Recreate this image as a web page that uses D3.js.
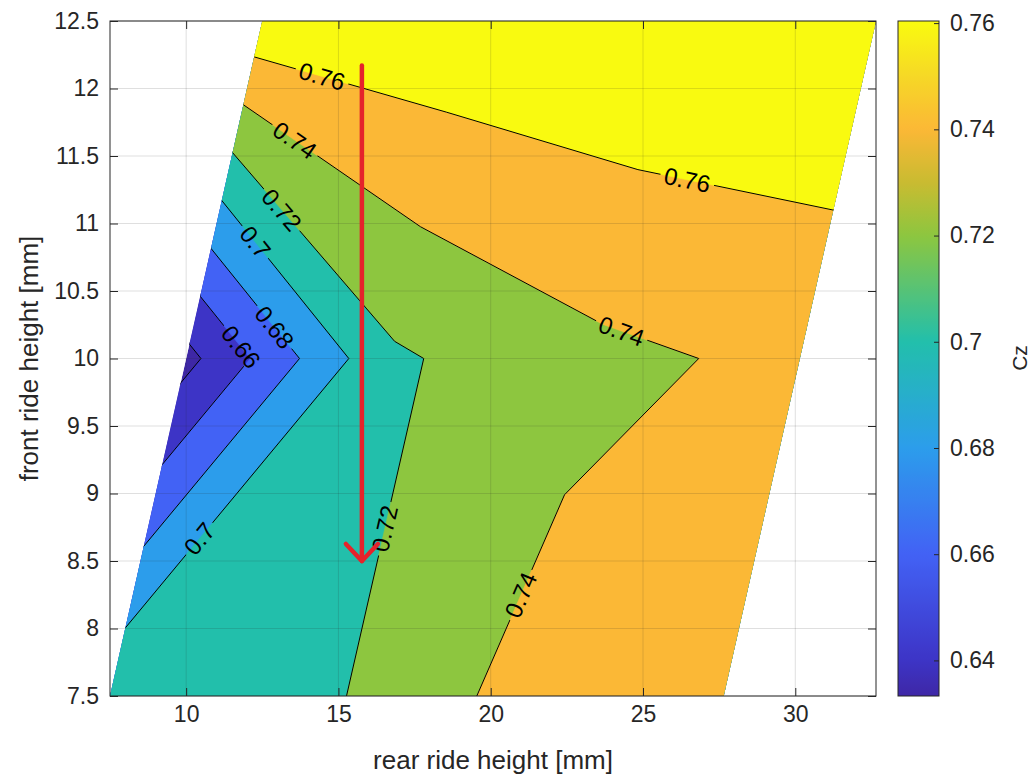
<!DOCTYPE html>
<html>
<head>
<meta charset="utf-8">
<script src="https://cdn.jsdelivr.net/npm/d3@7"></script>
<style>
  body { margin: 0; background: #fff; }
  svg { display: block; }
  text { font-family: "Liberation Sans", Arial, Helvetica, sans-serif; }
</style>
</head>
<body>
<svg id="chart" width="1032" height="779"></svg>
<script>
// ---------------- data ----------------
const frontRH = [7.5, 10, 12.5];                       // rows (front ride height, mm)
const rearRH = [                                       // rear ride height at each grid node (mm)
  [7.5, 14.217, 20.933, 27.65],
  [10.0, 16.717, 23.433, 30.15],
  [12.5, 19.217, 25.933, 32.65]
];
const cz = [                                           // Cz at each grid node
  [0.7167, 0.7151, 0.7465, 0.7520],
  [0.6340, 0.7170, 0.7356, 0.7443],
  [0.7750, 0.7759, 0.7792, 0.7800]
];
const levels = [0.64, 0.66, 0.68, 0.70, 0.72, 0.74, 0.76];
const xTicks = [10, 15, 20, 25, 30];
const yTicks = [7.5, 8, 8.5, 9, 9.5, 10, 10.5, 11, 11.5, 12, 12.5];
const cTicks = [0.64, 0.66, 0.68, 0.70, 0.72, 0.74, 0.76];
const xDomain = [7.5, 32.65];
const yDomain = [7.5, 12.5];
const colorLimits = [0.6333, 0.7604];
// colormap (parula-like) anchor values and colours
const cmapValues = [0.6333, 0.64, 0.66, 0.68, 0.70, 0.72, 0.73, 0.74, 0.75, 0.7604];
const cmapColors = ["#3e27a6", "#3d34c6", "#4262f5", "#2c9deb", "#22bfab", "#8dc63f", "#c9bb31", "#fbb836", "#f6d826", "#f9fb0f"];
// inline contour labels: level and approximate (rear, front) position
const labelLevels = [0.76, 0.76, 0.74, 0.72, 0.70, 0.68, 0.66, 0.70, 0.72, 0.74, 0.74];
const labelRear   = [14.45, 26.45, 13.55, 13.08, 12.26, 12.89, 11.66, 10.46, 16.70, 21.07, 24.32];
const labelFront  = [12.08, 11.32, 11.61, 11.09, 10.86, 10.23, 10.06, 8.66, 8.73, 8.24, 10.22];
// red annotation arrow (rear, front)
const arrowRear = [15.77, 15.77];
const arrowFront = [12.17, 8.5];

// ---------------- layout ----------------
const svg = d3.select("#chart");
const W = 1032, H = 779;
const plot = { left: 110, right: 876, top: 21, bottom: 696 };
const cbar = { left: 898, right: 939, top: 21, bottom: 696 };
const axisColor = "#262626";
const tickFont = 23;

const x = d3.scaleLinear().domain(xDomain).range([plot.left, plot.right]);
const y = d3.scaleLinear().domain(yDomain).range([plot.bottom, plot.top]);
const color = d3.scaleLinear().domain(cmapValues).range(cmapColors).interpolate(d3.interpolateRgb).clamp(true);
const cscale = d3.scaleLinear().domain(colorLimits).range([cbar.bottom, cbar.top]);

// ---------------- contour geometry ----------------
const ny = frontRH.length, nx = rearRH[0].length;
const flat = [];
for (let j = 0; j < ny; j++) for (let i = 0; i < nx; i++) flat.push(cz[j][i]);
const contourSet = d3.contours().size([nx, ny]).thresholds(levels)(flat);

function interp1(arr, t) {
  const n = arr.length;
  let k = Math.max(0, Math.min(n - 2, Math.floor(t)));
  const f = t - k;
  return arr[k] * (1 - f) + arr[k + 1] * f;
}
function gridToData(cx, cy) {
  const u = cx - 0.5, v = cy - 0.5;
  const front = interp1(frontRH, v);
  const j = Math.max(0, Math.min(ny - 2, Math.floor(v)));
  const fv = v - j;
  const rear = interp1(rearRH[j], u) * (1 - fv) + interp1(rearRH[j + 1], u) * fv;
  return [rear, front];
}
function toPx(p) { const d = gridToData(p[0], p[1]); return [x(d[0]), y(d[1])]; }
function pathOf(mp) {
  let s = "";
  mp.coordinates.forEach(poly => poly.forEach(ring => {
    s += "M" + ring.map(p => { const q = toPx(p); return q[0].toFixed(2) + "," + q[1].toFixed(2); }).join("L") + "Z";
  }));
  return s;
}

// domain boundary (data grid outline)
const boundary = [];
for (let i = 0; i < nx; i++) boundary.push([rearRH[0][i], frontRH[0]]);
for (let j = 1; j < ny; j++) boundary.push([rearRH[j][nx - 1], frontRH[j]]);
for (let i = nx - 2; i >= 0; i--) boundary.push([rearRH[ny - 1][i], frontRH[ny - 1]]);
for (let j = ny - 2; j > 0; j--) boundary.push([rearRH[j][0], frontRH[j]]);
const boundaryPx = boundary.map(d => [x(d[0]), y(d[1])]);
const boundaryPath = "M" + boundaryPx.map(p => p.join(",")).join("L") + "Z";

const defs = svg.append("defs");
defs.append("clipPath").attr("id", "dataClip").append("path").attr("d", boundaryPath);

// ---------------- filled contours ----------------
const fills = svg.append("g").attr("clip-path", "url(#dataClip)");
fills.append("path").attr("d", boundaryPath).attr("fill", color(colorLimits[0]));
contourSet.forEach(c => {
  fills.append("path").attr("d", pathOf(c)).attr("fill", color(c.value))
    .attr("fill-rule", "evenodd").attr("stroke", color(c.value)).attr("stroke-width", 0.6);
});

// ---------------- label placement ----------------
const labelFont = 24;
const labels = labelLevels.map((lv, k) => {
  const px = x(labelRear[k]), py = y(labelFront[k]);
  const c = contourSet.find(cc => Math.abs(cc.value - lv) < 1e-9);
  let best = null;
  c.coordinates.forEach(poly => poly.forEach(ring => {
    const pts = ring.map(toPx);
    for (let i = 0; i < pts.length - 1; i++) {
      const a = pts[i], b = pts[i + 1];
      const mid = [(a[0] + b[0]) / 2, (a[1] + b[1]) / 2];
      if (!d3.polygonContains(boundaryPx, mid)) continue;
      const dx = b[0] - a[0], dy = b[1] - a[1];
      const L2 = dx * dx + dy * dy; if (L2 < 1e-6) continue;
      let t = ((px - a[0]) * dx + (py - a[1]) * dy) / L2; t = Math.max(0, Math.min(1, t));
      const qx = a[0] + t * dx, qy = a[1] + t * dy;
      const dist = Math.hypot(px - qx, py - qy);
      if (!best || dist < best.dist) best = { dist, qx, qy, ang: Math.atan2(dy, dx) * 180 / Math.PI };
    }
  }));
  let ang = best.ang;
  if (ang > 90) ang -= 180;
  if (ang <= -90) ang += 180;
  return { text: String(+lv.toFixed(2)), x: best.qx, y: best.qy, ang };
});

// measure label widths
const measure = svg.append("text").attr("font-size", labelFont);
labels.forEach(l => { measure.text(l.text); l.w = measure.node().getComputedTextLength(); });
measure.remove();

const mask = defs.append("mask").attr("id", "labelMask").attr("maskUnits", "userSpaceOnUse")
  .attr("x", 0).attr("y", 0).attr("width", W).attr("height", H);
mask.append("rect").attr("width", W).attr("height", H).attr("fill", "#fff");
labels.forEach(l => {
  mask.append("rect")
    .attr("x", -l.w / 2 - 4).attr("y", -labelFont * 0.42).attr("width", l.w + 8).attr("height", labelFont * 0.84)
    .attr("transform", `translate(${l.x},${l.y}) rotate(${l.ang})`).attr("fill", "#000");
});

// ---------------- contour lines ----------------
const lines = svg.append("g").attr("clip-path", "url(#dataClip)").append("g").attr("mask", "url(#labelMask)");
contourSet.forEach(c => {
  lines.append("path").attr("d", pathOf(c)).attr("fill", "none").attr("stroke", "#000").attr("stroke-width", 1);
});

// ---------------- grid + axes ----------------
const grid = svg.append("g").attr("stroke", axisColor).attr("stroke-opacity", 0.15).attr("stroke-width", 1);
xTicks.forEach(v => grid.append("line").attr("x1", x(v)).attr("x2", x(v)).attr("y1", plot.top).attr("y2", plot.bottom));
yTicks.forEach(v => grid.append("line").attr("x1", plot.left).attr("x2", plot.right).attr("y1", y(v)).attr("y2", y(v)));

function styleAxis(g, showText) {
  g.select(".domain").remove();
  g.selectAll(".tick line").attr("stroke", axisColor);
  g.selectAll(".tick text").attr("fill", axisColor).attr("font-size", tickFont).attr("font-family", null);
  if (!showText) g.selectAll(".tick text").remove();
}
svg.append("g").attr("transform", `translate(0,${plot.bottom})`)
  .call(d3.axisBottom(x).tickValues(xTicks).tickFormat(d3.format("")).tickSizeInner(-8).tickSizeOuter(0).tickPadding(10))
  .call(g => styleAxis(g, true));
svg.append("g").attr("transform", `translate(0,${plot.top})`)
  .call(d3.axisTop(x).tickValues(xTicks).tickSizeInner(-8).tickSizeOuter(0))
  .call(g => styleAxis(g, false));
svg.append("g").attr("transform", `translate(${plot.left},0)`)
  .call(d3.axisLeft(y).tickValues(yTicks).tickFormat(d3.format("")).tickSizeInner(-8).tickSizeOuter(0).tickPadding(11))
  .call(g => styleAxis(g, true));
svg.append("g").attr("transform", `translate(${plot.right},0)`)
  .call(d3.axisRight(y).tickValues(yTicks).tickSizeInner(-8).tickSizeOuter(0))
  .call(g => styleAxis(g, false));
svg.append("rect").attr("x", plot.left).attr("y", plot.top)
  .attr("width", plot.right - plot.left).attr("height", plot.bottom - plot.top)
  .attr("fill", "none").attr("stroke", axisColor).attr("stroke-width", 1);

// ---------------- contour labels ----------------
svg.append("g").selectAll("text").data(labels).join("text")
  .attr("transform", d => `translate(${d.x},${d.y}) rotate(${d.ang})`)
  .attr("text-anchor", "middle").attr("dominant-baseline", "central")
  .attr("font-size", labelFont).attr("fill", "#000").text(d => d.text);

// ---------------- red arrow ----------------
const ax0 = x(arrowRear[0]), ay0 = y(arrowFront[0]), ax1 = x(arrowRear[1]), ay1 = y(arrowFront[1]);
const arrowG = svg.append("g").attr("stroke", "#e5232b").attr("stroke-width", 4.5).attr("fill", "none")
  .attr("stroke-linecap", "round").attr("stroke-linejoin", "round");
arrowG.append("line").attr("x1", ax0).attr("y1", ay0).attr("x2", ax1).attr("y2", ay1);
arrowG.append("path").attr("d", `M${ax1 - 16},${ay1 - 17}L${ax1},${ay1}L${ax1 + 16},${ay1 - 17}`);

// ---------------- colorbar ----------------
const grad = defs.append("linearGradient").attr("id", "cbGrad").attr("x1", 0).attr("y1", 1).attr("x2", 0).attr("y2", 0);
d3.range(0, 1.0001, 1 / 128).forEach(t => {
  const v = colorLimits[0] + t * (colorLimits[1] - colorLimits[0]);
  grad.append("stop").attr("offset", t).attr("stop-color", color(v));
});
svg.append("rect").attr("x", cbar.left).attr("y", cbar.top).attr("width", cbar.right - cbar.left)
  .attr("height", cbar.bottom - cbar.top).attr("fill", "url(#cbGrad)");
svg.append("g").attr("transform", `translate(${cbar.right},0)`)
  .call(d3.axisRight(cscale).tickValues(cTicks).tickFormat(d => String(+d.toFixed(2))).tickSizeInner(-5).tickSizeOuter(0).tickPadding(11))
  .call(g => styleAxis(g, true));
svg.append("rect").attr("x", cbar.left).attr("y", cbar.top).attr("width", cbar.right - cbar.left)
  .attr("height", cbar.bottom - cbar.top).attr("fill", "none").attr("stroke", axisColor).attr("stroke-width", 1);

// ---------------- axis titles ----------------
svg.append("text").attr("x", (plot.left + plot.right) / 2).attr("y", 760)
  .attr("text-anchor", "middle").attr("dominant-baseline", "central")
  .attr("font-size", 26).attr("fill", axisColor).text("rear ride height [mm]");
svg.append("text").attr("transform", `translate(29,${(plot.top + plot.bottom) / 2}) rotate(-90)`)
  .attr("text-anchor", "middle").attr("dominant-baseline", "central")
  .attr("font-size", 26).attr("fill", axisColor).text("front ride height [mm]");
svg.append("text").attr("transform", `translate(1019,358) rotate(-90)`)
  .attr("text-anchor", "middle").attr("dominant-baseline", "central")
  .attr("font-size", 21).attr("fill", axisColor).text("Cz");
</script>
</body>
</html>
